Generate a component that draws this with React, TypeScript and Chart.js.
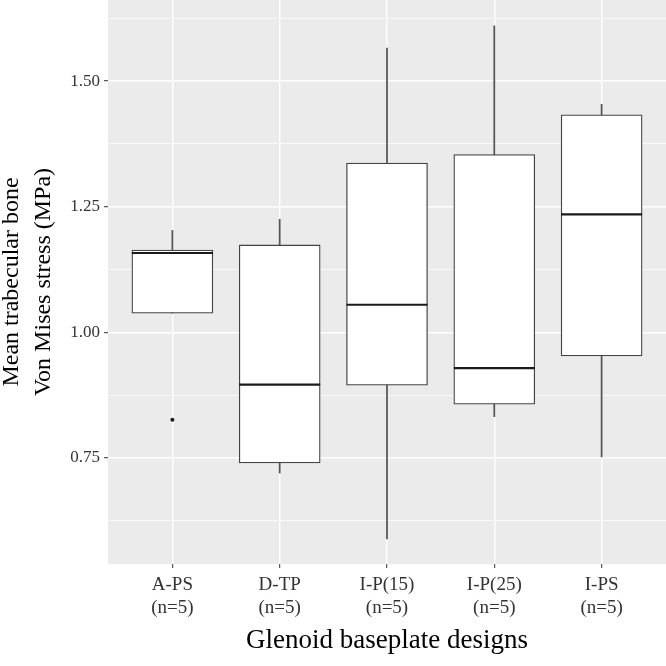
import React, { useEffect, useRef } from 'react';
import { Chart, registerables } from 'chart.js';

Chart.register(...registerables);

// ---- data ----
const categories = ['A-PS', 'D-TP', 'I-P(15)', 'I-P(25)', 'I-PS'];
const sampleLabels = ['(n=5)', '(n=5)', '(n=5)', '(n=5)', '(n=5)'];
const xPositions = [1, 2, 3, 4, 5];
const whiskerLow = [1.038, 0.72, 0.589, 0.832, 0.752];
const q1 = [1.038, 0.74, 0.895, 0.857, 0.953];
const median = [1.158, 0.896, 1.055, 0.929, 1.235];
const q3 = [1.164, 1.174, 1.337, 1.354, 1.433];
const whiskerHigh = [1.203, 1.225, 1.566, 1.61, 1.454];
const outlierGroup = [1];
const outlierValue = [0.826];
const yMajorTicks = [0.75, 1.0, 1.25, 1.5];
const yMinorTicks = [0.625, 0.875, 1.125, 1.375, 1.625];
const yMin = 0.539;
const yMax = 1.6615;
const xMin = 0.4;
const xMax = 5.6;

const FONT = 'Liberation Serif, Times New Roman, serif';

const panelBg = {
  id: 'panelBg',
  beforeDraw(chart: any) {
    const { ctx, chartArea } = chart;
    const { left, top, right, bottom } = chartArea;
    ctx.save();
    ctx.fillStyle = '#EBEBEB';
    ctx.fillRect(left, top, right - left, bottom - top);
    ctx.restore();
  },
};

export default function App() {
  const canvasRef = useRef<HTMLCanvasElement | null>(null);

  useEffect(() => {
    if (!canvasRef.current) return;
    const isMajor = (v: number) => yMajorTicks.some((m) => Math.abs(m - v) < 1e-9);
    const chart = new Chart(canvasRef.current, {
      type: 'bar',
      data: {
        datasets: [
          {
            type: 'bar',
            label: 'whiskers',
            data: xPositions.map((x, i) => ({ x, y: [whiskerLow[i], whiskerHigh[i]] })),
            backgroundColor: '#555555',
            borderWidth: 0,
            barThickness: 1.1,
            grouped: false,
            order: 3,
          } as any,
          {
            type: 'bar',
            label: 'boxes',
            data: xPositions.map((x, i) => ({ x, y: [q1[i], q3[i]] })),
            backgroundColor: '#ffffff',
            borderColor: '#444444',
            borderWidth: 1.3,
            borderSkipped: false,
            barThickness: 81,
            grouped: false,
            order: 2,
          } as any,
          {
            type: 'scatter',
            label: 'medians',
            data: xPositions.map((x, i) => ({ x, y: median[i] })),
            pointStyle: 'line',
            pointRadius: 40.5,
            pointHoverRadius: 40.5,
            pointBorderColor: '#1a1a1a',
            pointBorderWidth: 2.2,
            order: 1,
          } as any,
          {
            type: 'scatter',
            label: 'outliers',
            data: outlierGroup.map((g, i) => ({ x: g, y: outlierValue[i] })),
            pointStyle: 'circle',
            pointRadius: 2,
            backgroundColor: '#1a1a1a',
            pointBackgroundColor: '#1a1a1a',
            pointBorderWidth: 0,
            order: 0,
          } as any,
        ],
      },
      options: {
        animation: false,
        responsive: false,
        devicePixelRatio: 1,
        layout: { padding: 0, autoPadding: false },
        plugins: {
          legend: { display: false },
          tooltip: { enabled: false },
        },
        scales: {
          x: {
            type: 'linear',
            min: xMin,
            max: xMax,
            offset: false,
            afterBuildTicks: (s: any) => {
              s.ticks = xPositions.map((v) => ({ value: v }));
            },
            afterFit: (s: any) => {
              s.height = 102;
              s.paddingLeft = 0;
              s.paddingRight = 0;
            },
            grid: {
              offset: false,
              color: '#ffffff',
              lineWidth: 1.4,
              drawTicks: true,
              tickLength: 4,
              tickColor: '#333333',
              tickWidth: 1,
            },
            border: { display: false },
            ticks: {
              autoSkip: false,
              maxRotation: 0,
              padding: 6,
              color: '#333333',
              font: { family: FONT, size: 19, lineHeight: 1.2 },
              callback: (v: any) => {
                const i = xPositions.indexOf(Number(v));
                return i >= 0 ? [categories[i], sampleLabels[i]] : '';
              },
            },
            title: {
              display: true,
              text: 'Glenoid baseplate designs',
              color: '#000000',
              font: { family: FONT, size: 27, lineHeight: 1.2 },
              padding: { top: 0, bottom: 9 },
            },
          },
          y: {
            type: 'linear',
            min: yMin,
            max: yMax,
            afterBuildTicks: (s: any) => {
              s.ticks = [...yMinorTicks, ...yMajorTicks]
                .sort((a, b) => a - b)
                .map((v) => ({ value: v }));
            },
            afterFit: (s: any) => {
              s.width = 108;
              s.paddingTop = 0;
              s.paddingBottom = 0;
            },
            grid: {
              color: '#ffffff',
              lineWidth: (ctx: any) => (ctx.tick && isMajor(ctx.tick.value) ? 1.4 : 0.7),
              drawTicks: true,
              tickLength: 4,
              tickWidth: 1,
              tickColor: (ctx: any) => (ctx.tick && isMajor(ctx.tick.value) ? '#333333' : 'rgba(0,0,0,0)'),
            },
            border: { display: false },
            ticks: {
              autoSkip: false,
              padding: 4,
              color: '#333333',
              font: { family: FONT, size: 17 },
              callback: (v: any) => (isMajor(Number(v)) ? Number(v).toFixed(2) : ''),
            },
            title: {
              display: true,
              text: ['Mean trabecular bone', 'Von Mises stress (MPa)'],
              color: '#000000',
              font: { family: FONT, size: 24, lineHeight: 1.33 },
              padding: { top: -4, bottom: 0 },
            },
          },
        },
      } as any,
      plugins: [panelBg],
    });
    return () => chart.destroy();
  }, []);

  return (
    <div style={{ position: 'fixed', left: 0, top: 0, width: 666, height: 666, background: '#ffffff' }}>
      <canvas ref={canvasRef} width={666} height={666} style={{ display: 'block' }} />
    </div>
  );
}
